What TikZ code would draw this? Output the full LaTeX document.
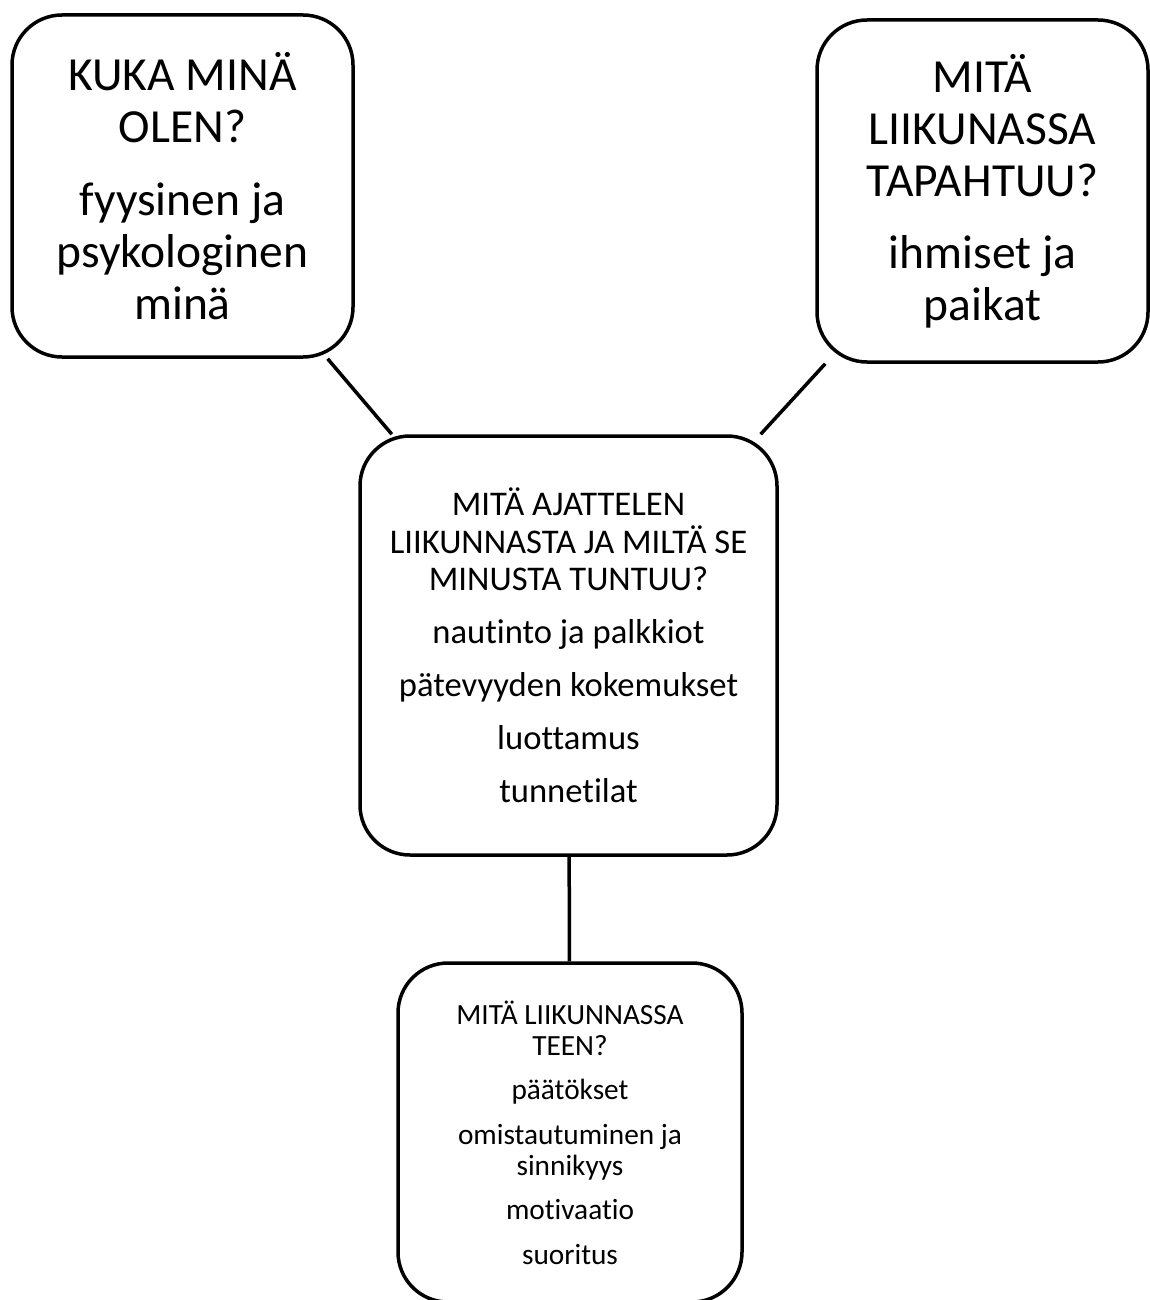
\documentclass[tikz,border=0pt]{standalone}
\usepackage{fontspec}
\setmainfont{Carlito}[Ligatures={NoCommon}]
\begin{document}
\begin{tikzpicture}[x=1pt,y=-1pt,
  box/.style={draw=black,line width=3.5pt,rounded corners=50pt,fill=white,
    align=center,inner sep=0pt},
  link/.style={draw=black,line width=3.5pt}]
\useasboundingbox[fill=white] (0,0) rectangle (1150,1300);
\node[box,minimum width=341pt,minimum height=342pt,
  font=\fontsize{47.5}{52}\selectfont] (who) at (182.5,186)
  {KUKA MINÄ\\OLEN?\\[21pt]fyysinen ja\\psykologinen\\minä};
\node[box,minimum width=331pt,minimum height=342pt,
  font=\fontsize{47.5}{52}\selectfont] (where) at (982.5,191)
  {MITÄ\\LIIKUNASSA\\TAPAHTUU?\\[20pt]ihmiset ja\\paikat};
\node[box,minimum width=417pt,minimum height=419pt,
  font=\fontsize{34.6}{37.5}\selectfont] (think) at (568.5,645.5)
  {MITÄ AJATTELEN\\LIIKUNNASTA JA MILTÄ SE\\MINUSTA TUNTUU?\\[15.5pt]nautinto ja palkkiot\\[15.5pt]pätevyyden kokemukset\\[15.5pt]luottamus\\[15.5pt]tunnetilat};
\node[box,minimum width=344pt,minimum height=339pt,
  font=\fontsize{29.3}{31}\selectfont] (do) at (570,1132.5)
  {MITÄ LIIKUNNASSA\\TEEN?\\[13.5pt]päätökset\\[13.5pt]omistautuminen ja\\sinnikyys\\[13.5pt]motivaatio\\[13.5pt]suoritus};
\draw[link] (who) -- (think);
\draw[link] (where) -- (think);
\draw[link] (think) -- (do);
\end{tikzpicture}
\end{document}
